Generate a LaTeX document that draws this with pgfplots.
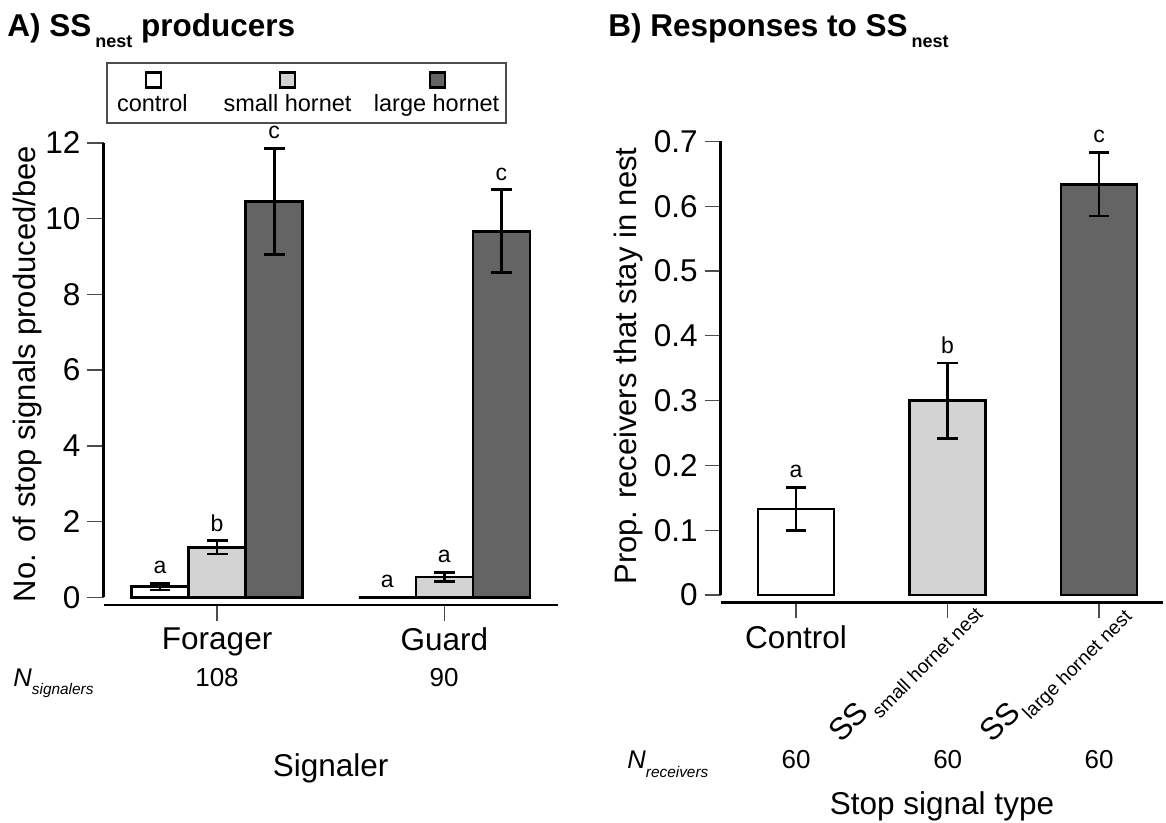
\documentclass[border=0pt]{standalone}
\usepackage{fontspec}
\setmainfont{Liberation Sans}
\usepackage{pgfplots}
\pgfplotsset{compat=1.18}
\definecolor{lgray}{HTML}{D3D3D3}
\definecolor{dgray}{HTML}{646464}
\newcommand{\fs}[1]{\fontsize{#1}{#1}\selectfont}

\pgfplotsset{
  every error bar/.append style={line width=1.35pt, black},
  panel/.style={
    scale only axis, anchor=south west, clip=false,
    axis line style={draw=none},
    tick align=outside, major tick length=8pt,
    tick style={line width=0.65pt, black!70},
    xtick pos=left, ytick pos=left,
    ticklabel style={font=\fs{15.75pt}},
    /pgf/number format/assume math mode=true,
  },
  bars/.style={
    ybar, bar shift=0pt, draw=black, line width=1.35pt,
    error bars/y dir=both, error bars/y explicit,
    error bars/error mark=|,
    error bars/error bar style={line width=1.35pt, black},
    error bars/error mark options={line width=1.35pt, mark size=5.2pt, black},
  },
  letters/.style={
    draw=none, mark=none, nodes near coords, point meta=explicit symbolic,
    nodes near coords style={font=\fs{11.5pt}, inner sep=0pt, anchor=base, yshift=4.75pt},
  },
}

\begin{document}
\begin{tikzpicture}[x=0.5pt,y=0.5pt]
\useasboundingbox (0,0) rectangle (1166,823);

% titles
\node[anchor=base west, inner sep=0pt, font=\bfseries\fs{15.75pt}] at (7,786)
  {A) SS\kern2pt\raisebox{-5.5pt}{\fs{9pt}nest} producers};
\node[anchor=base west, inner sep=0pt, font=\bfseries\fs{15.75pt}] at (608,786)
  {B) Responses to SS\kern2pt\raisebox{-5.5pt}{\fs{9pt}nest}};

% legend of panel A
\draw[line width=0.6pt, black!70] (107,700) rectangle (506,760);
\draw[line width=1.2pt, fill=white] (146.1,735.5) rectangle (161.1,750.5);
\draw[line width=1.2pt, fill=lgray] (280,735.5) rectangle (295,750.5);
\draw[line width=1.2pt, fill=dgray] (430,735.5) rectangle (445,750.5);
\node[anchor=base, inner sep=0pt, font=\fs{11.75pt}] at (152.3,711.4) {control};
\node[anchor=base, inner sep=0pt, font=\fs{11.75pt}] at (287.5,711.4) {small hornet};
\node[anchor=base, inner sep=0pt, font=\fs{11.75pt}] at (436.6,711.4) {large hornet};

% ---------- A) SS nest producers ----------
\begin{axis}[panel,
  at={(51.75pt,109pt)}, width=227.25pt, height=231pt,
  xmin=-0.5, xmax=1.5, ymin=-0.2034, ymax=12,
  ytick={0,2,4,6,8,10,12},
  xtick={0,1}, xticklabels={Forager,Guard},
  bar width=28.5pt,
]
% control, small hornet, large hornet (groups Forager = 0, Guard = 1)
\addplot[bars, fill=white] coordinates {
  (-0.2511,0.28) +- (0,0.09)
  (0.7489,0.00) +- (0,0.00)
};
\addplot[bars, fill=lgray] coordinates {
  (0,1.32) +- (0,0.18)
  (1,0.54) +- (0,0.12)
};
\addplot[bars, fill=dgray] coordinates {
  (0.2511,10.46) +- (0,1.40)
  (1.2511,9.67) +- (0,1.10)
};
\addplot[letters] coordinates {
  (-0.2511,0.37)[a] (0,1.50)[b] (0.2511,11.86)[c]
  (0.7489,0.00)[a] (1,0.66)[a] (1.2511,10.77)[c]
};
\draw[line width=1.35pt] (axis cs:-0.5,0) -- (axis cs:-0.5,12);
\draw[line width=1.35pt] (rel axis cs:0,0) -- (rel axis cs:1,0);
\end{axis}

\node[rotate=90, anchor=base, inner sep=0pt, font=\fs{15.5pt}] at (35,449)
  {No. of stop signals produced/bee};
\node[anchor=base west, inner sep=0pt, font=\fs{12.8pt}\itshape] at (13,136.3)
  {N\raisebox{-4.15pt}{\fs{7.7pt}signalers}};
\node[anchor=base, inner sep=0pt, font=\fs{13pt}] at (217,136.3) {108};
\node[anchor=base, inner sep=0pt, font=\fs{13pt}] at (444,136.3) {90};
\node[anchor=base, inner sep=0pt, font=\fs{15.75pt}] at (330.7,46) {Signaler};

% ---------- B) Responses to SS nest ----------
\begin{axis}[panel,
  at={(360.35pt,110.35pt)}, width=221.15pt, height=230.45pt,
  xmin=-0.497, xmax=2.422, ymin=-0.0111, ymax=0.7,
  ytick={0,0.1,...,0.7},
  yticklabel style={/pgf/number format/fixed, /pgf/number format/precision=1},
  xtick={0,1,2}, xticklabels={Control,,},
  bar width=38pt,
]
\addplot[bars, fill=white] coordinates {(0,0.133) +- (0,0.033)};
\addplot[bars, fill=lgray] coordinates {(1,0.300) +- (0,0.058)};
\addplot[bars, fill=dgray] coordinates {(2,0.634) +- (0,0.049)};
\addplot[letters] coordinates {(0,0.167)[a] (1,0.358)[b] (2,0.683)[c]};
\draw[line width=1.35pt] (axis cs:-0.497,0) -- (axis cs:-0.497,0.7);
\draw[line width=1.35pt] (rel axis cs:0,0) -- (rel axis cs:1,0);
\end{axis}

\node[rotate=90, anchor=base, inner sep=0pt, font=\fs{15.5pt}] at (636,457)
  {Prop. receivers that stay in nest};
\node[rotate=45, anchor=base west, inner sep=0pt] at (841,79)
  {\fs{15.5pt}SS\kern1.7pt\raisebox{-5pt}{\fs{9.65pt}small hornet nest}};
\node[rotate=45, anchor=base west, inner sep=0pt] at (992.7,79)
  {\fs{15.5pt}SS\kern0.8pt\raisebox{-5pt}{\fs{9.65pt}large hornet nest}};
\node[anchor=base west, inner sep=0pt, font=\fs{12.8pt}\itshape] at (627,54)
  {N\raisebox{-4.5pt}{\fs{7.7pt}receivers}};
\node[anchor=base, inner sep=0pt, font=\fs{13pt}] at (796,54) {60};
\node[anchor=base, inner sep=0pt, font=\fs{13pt}] at (947.7,54) {60};
\node[anchor=base, inner sep=0pt, font=\fs{13pt}] at (1099,54) {60};
\node[anchor=base, inner sep=0pt, font=\fs{15.75pt}] at (942,8) {Stop signal type};
\end{tikzpicture}
\end{document}
